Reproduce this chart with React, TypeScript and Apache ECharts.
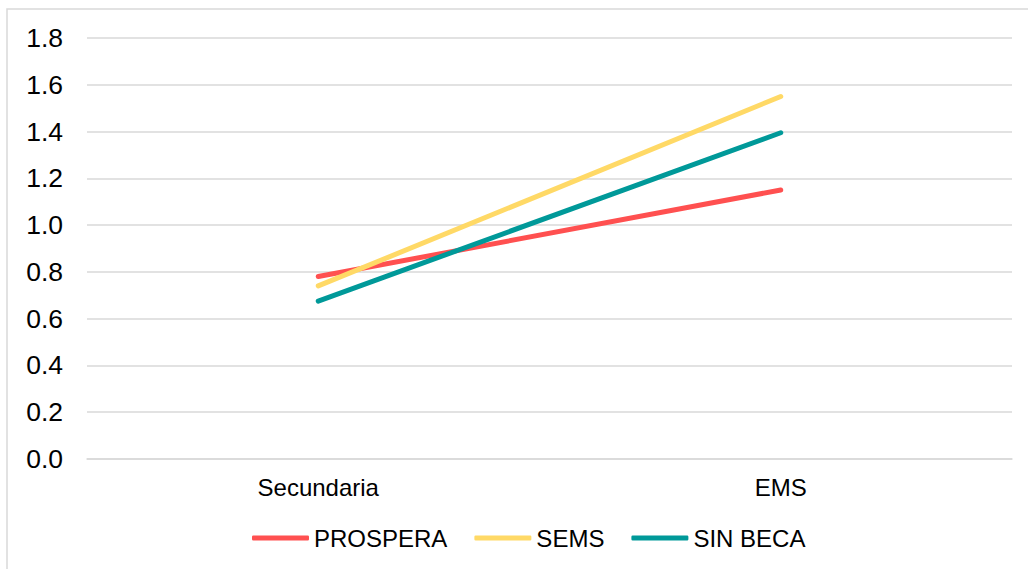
import React, { useEffect, useRef } from "react";
import * as echarts from "echarts";

const categories = ["Secundaria", "EMS"];
const prospera = [0.78, 1.15];
const sems = [0.74, 1.55];
const sinBeca = [0.675, 1.395];
const seriesNames = ["PROSPERA", "SEMS", "SIN BECA"];
const colors = ["#FF5050", "#FFD966", "#009999"];

export default function App() {
  const ref = useRef<HTMLDivElement>(null);
  useEffect(() => {
    const chart = echarts.init(ref.current!, undefined, { renderer: "svg" });
    const font = "'Liberation Sans', Arial, sans-serif";
    const data = [prospera, sems, sinBeca];
    chart.setOption({
      animation: false,
      backgroundColor: "#ffffff",
      textStyle: { fontFamily: font },
      graphic: [
        {
          type: "rect",
          shape: { x: 7, y: 9, width: 1040, height: 600 },
          style: { fill: "none", stroke: "#d9d9d9", lineWidth: 1.5 },
          silent: true,
        },
      ],
      grid: { left: 87, right: 16, top: 38, bottom: 110, containLabel: false },
      xAxis: {
        type: "category",
        data: categories,
        boundaryGap: true,
        axisLine: { show: true, lineStyle: { color: "#d9d9d9", width: 1.5 } },
        axisTick: { show: false },
        axisLabel: { color: "#000", fontSize: 24, fontFamily: font, margin: 16 },
      },
      yAxis: {
        type: "value",
        min: 0,
        max: 1.8,
        interval: 0.2,
        axisLine: { show: false },
        axisTick: { show: false },
        splitLine: { lineStyle: { color: "#d9d9d9", width: 1.5 } },
        axisLabel: {
          color: "#000",
          fontSize: 26.5,
          fontFamily: font,
          margin: 24,
          formatter: (v: number) => v.toFixed(1),
        },
      },
      legend: {
        data: seriesNames,
        left: 247,
        top: 521,
        icon: "roundRect",
        itemWidth: 57,
        itemHeight: 5,
        itemGap: 27,
        textStyle: { color: "#000", fontSize: 24, fontFamily: font },
      },
      series: seriesNames.map((name, i) => ({
        name,
        type: "line",
        data: data[i],
        symbol: "none",
        showSymbol: false,
        color: colors[i],
        lineStyle: { color: colors[i], width: 5, cap: "round" },
        itemStyle: { color: colors[i] },
      })),
    });
    return () => chart.dispose();
  }, []);
  return (
    <div
      ref={ref}
      style={{ position: "absolute", left: 0, top: 0, width: 1028, height: 569 }}
    />
  );
}
